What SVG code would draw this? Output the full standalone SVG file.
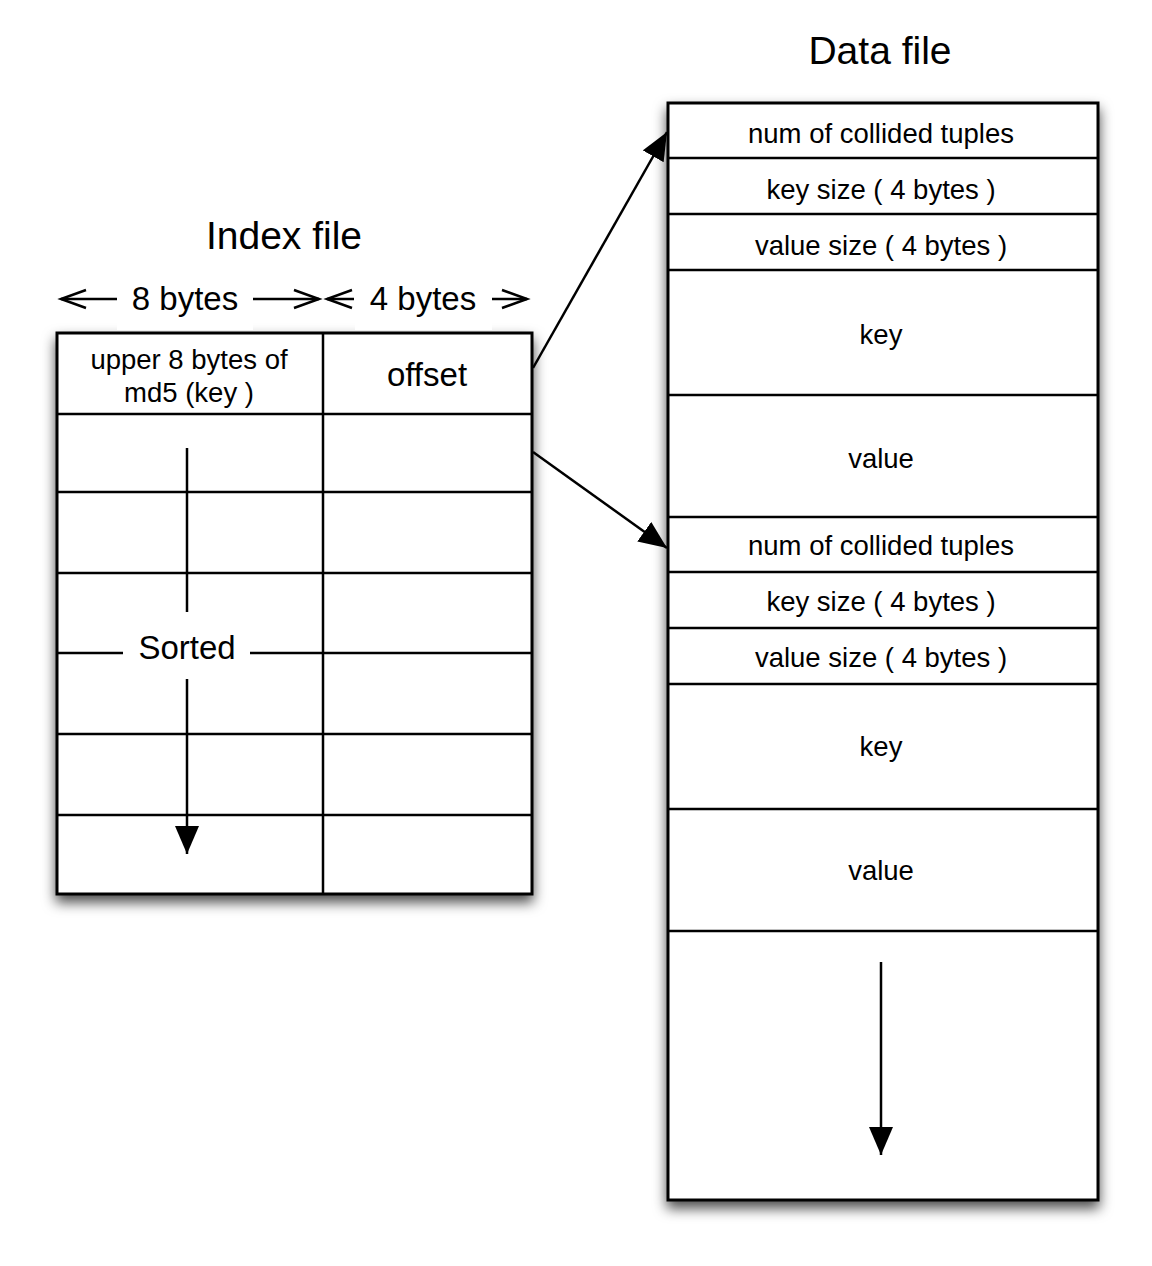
<svg xmlns="http://www.w3.org/2000/svg" width="1152" height="1266" viewBox="0 0 1152 1266">
<defs>
<style>
text{font-family:"Liberation Sans",Arial,Helvetica,sans-serif;fill:#000;text-anchor:middle}
.t{font-size:39px}
.lbl{font-size:33px}
.cell{font-size:27.5px}
.box{fill:#fff;stroke:#000;stroke-width:3}
.ln{stroke:#000;stroke-width:2.5;fill:none}
.conn{stroke:#000;stroke-width:2.5;fill:none}
.open{stroke:#000;stroke-width:2.5;fill:none}
</style>
<filter id="sh" x="-10%" y="-10%" width="120%" height="120%">
<feDropShadow dx="0" dy="7" stdDeviation="6.5" flood-color="#000" flood-opacity="0.7"/>
</filter>
<marker id="ah" markerUnits="userSpaceOnUse" markerWidth="30" markerHeight="26" refX="28" refY="12" orient="auto">
<path d="M0,0 L28,12 L0,24 Z" fill="#000"/>
</marker>
</defs>
<rect width="1152" height="1266" fill="#fff"/>

<g id="titles">
<text class="t" x="284" y="249">Index file</text>
<text class="t" x="880" y="64">Data file</text>
</g>

<g id="index-file">
<rect class="box" x="57" y="333" width="475" height="561" filter="url(#sh)"/>
<line class="ln" x1="323" y1="333" x2="323" y2="894"/>
<line class="ln" x1="57" y1="414" x2="532" y2="414"/>
<line class="ln" x1="57" y1="492" x2="532" y2="492"/>
<line class="ln" x1="57" y1="573" x2="532" y2="573"/>
<line class="ln" x1="57" y1="653" x2="123" y2="653"/>
<line class="ln" x1="250" y1="653" x2="532" y2="653"/>
<line class="ln" x1="57" y1="734" x2="532" y2="734"/>
<line class="ln" x1="57" y1="815" x2="532" y2="815"/>
<text class="cell" x="189" y="369">upper 8 bytes of</text>
<text class="cell" x="189" y="402">md5 (key )</text>
<text class="lbl" x="427" y="386">offset</text>
</g>

<g id="width-labels">
<rect x="117" y="272" width="136" height="58" fill="#fff"/>
<rect x="355" y="272" width="137" height="58" fill="#fff"/>
<text class="lbl" x="185" y="310">8 bytes</text>
<text class="lbl" x="423" y="310">4 bytes</text>
<line class="open" x1="61" y1="299" x2="117" y2="299"/>
<path class="open" d="M86,290 L61,299 L86,308"/>
<line class="open" x1="253" y1="299" x2="319" y2="299"/>
<path class="open" d="M294,290 L319,299 L294,308"/>
<line class="open" x1="327" y1="299" x2="354" y2="299"/>
<path class="open" d="M352,290 L327,299 L352,308"/>
<line class="open" x1="492" y1="299" x2="527" y2="299"/>
<path class="open" d="M502,290 L527,299 L502,308"/>
</g>

<g id="sorted">
<line class="ln" x1="187" y1="448" x2="187" y2="612"/>
<line class="ln" x1="187" y1="679" x2="187" y2="854" marker-end="url(#ah)"/>
<text class="lbl" x="187" y="659">Sorted</text>
</g>

<g id="data-file">
<rect class="box" x="668" y="103" width="430" height="1097" filter="url(#sh)"/>
<line class="ln" x1="668" y1="158" x2="1098" y2="158"/>
<line class="ln" x1="668" y1="214" x2="1098" y2="214"/>
<line class="ln" x1="668" y1="270" x2="1098" y2="270"/>
<line class="ln" x1="668" y1="395" x2="1098" y2="395"/>
<line class="ln" x1="668" y1="517" x2="1098" y2="517"/>
<line class="ln" x1="668" y1="572" x2="1098" y2="572"/>
<line class="ln" x1="668" y1="628" x2="1098" y2="628"/>
<line class="ln" x1="668" y1="684" x2="1098" y2="684"/>
<line class="ln" x1="668" y1="809" x2="1098" y2="809"/>
<line class="ln" x1="668" y1="931" x2="1098" y2="931"/>
<text class="cell" x="881" y="143">num of collided tuples</text>
<text class="cell" x="881" y="199">key size ( 4 bytes )</text>
<text class="cell" x="881" y="255">value size ( 4 bytes )</text>
<text class="cell" x="881" y="344">key</text>
<text class="cell" x="881" y="468">value</text>
<text class="cell" x="881" y="555">num of collided tuples</text>
<text class="cell" x="881" y="611">key size ( 4 bytes )</text>
<text class="cell" x="881" y="667">value size ( 4 bytes )</text>
<text class="cell" x="881" y="756">key</text>
<text class="cell" x="881" y="880">value</text>
<line class="ln" x1="881" y1="962" x2="881" y2="1155" marker-end="url(#ah)"/>
</g>

<g id="connectors">
<line class="conn" x1="533" y1="368" x2="667" y2="132" marker-end="url(#ah)"/>
<line class="conn" x1="533" y1="452" x2="667" y2="548" marker-end="url(#ah)"/>
</g>
</svg>
